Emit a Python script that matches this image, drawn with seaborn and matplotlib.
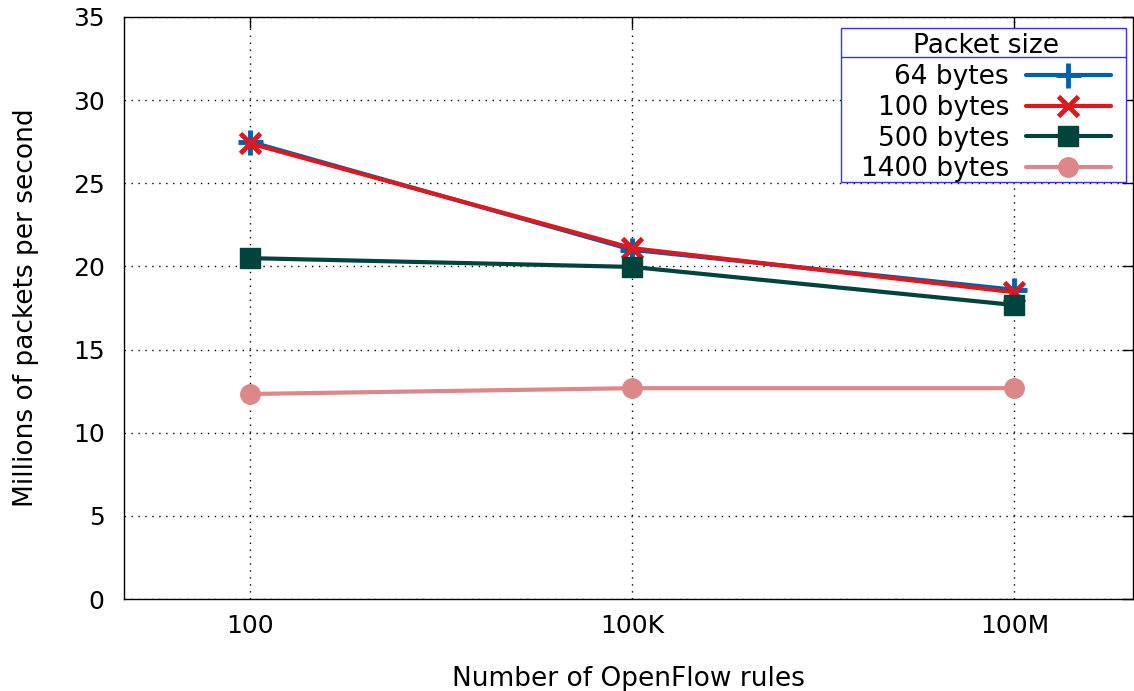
import matplotlib
matplotlib.use("Agg")
import matplotlib.pyplot as plt
from matplotlib.lines import Line2D
from matplotlib.patches import Rectangle
import seaborn as sns
import pandas as pd

rules = ["100", "100K", "100M"]
sizes = ["64 bytes", "100 bytes", "500 bytes", "1400 bytes"]
mpps_64 = [27.5, 21.0, 18.6]
mpps_100 = [27.4, 21.1, 18.45]
mpps_500 = [20.5, 19.97, 17.68]
mpps_1400 = [12.33, 12.68, 12.68]

colors = ["#0060ad", "#dd181f", "#00443d", "#dd8888"]
markers = ["+", "x", "s", "o"]
msizes = [18, 15, 14, 14]
mews = [3.5, 3.5, 1, 1]
frame_color = "#3333ee"

sns.set_theme(style="white")
plt.rcParams["font.family"] = ["DejaVu Sans"]
plt.rcParams.update({"text.color": "black", "axes.labelcolor": "black",
                     "xtick.color": "black", "ytick.color": "black"})

fig = plt.figure(figsize=(11.34, 6.91), dpi=100)
ax = fig.add_axes([0.1093, 0.1331, 0.8897, 0.8423])

series = [mpps_64, mpps_100, mpps_500, mpps_1400]
handles = []
for name, vals, c, m, ms, mew in zip(sizes, series, colors, markers, msizes, mews):
    df = pd.DataFrame({"pos": range(len(rules)), "mpps": vals})
    sns.lineplot(data=df, x="pos", y="mpps", ax=ax, color=c, linewidth=3,
                 marker=m, markersize=ms, markeredgewidth=mew,
                 markeredgecolor=c, markerfacecolor=c, zorder=3)
    handles.append(Line2D([], [], color=c, linewidth=3, marker=m, markersize=ms,
                          markeredgewidth=mew, markeredgecolor=c, markerfacecolor=c))

ax.set_xlim(-0.33, 2.31)
ax.set_ylim(0, 35)
ax.set_xticks(range(len(rules)))
ax.set_xticklabels(rules)
ax.set_yticks(range(0, 36, 5))
ax.tick_params(axis="both", direction="in", length=8, width=1, labelsize=18,
               top=True, right=True, color="black", labelcolor="black")
ax.tick_params(axis="x", pad=11)
ax.tick_params(axis="y", pad=14)
ax.grid(True, linestyle=(0, (1, 4)), color="black", linewidth=1)
for s in ax.spines.values():
    s.set_color("black")
    s.set_linewidth(1)
ax.set_xlabel("Number of OpenFlow rules", fontsize=19, labelpad=20)
ax.set_ylabel("Millions of packets per second", fontsize=19, labelpad=24)

# legend without its own frame; a box with a title separator is drawn around it
leg = ax.legend(handles, sizes, title="Packet size", loc="upper right",
                bbox_to_anchor=(0.978, 0.972), markerfirst=False, fontsize=19,
                title_fontsize=19, frameon=False, handlelength=3.2,
                borderpad=0.0, labelspacing=0.18, handletextpad=0.65,
                borderaxespad=0, alignment="center")

fig.canvas.draw()
bb = leg._legend_box.get_window_extent()
tb = leg.get_title().get_window_extent()
inv = fig.transFigure.inverted()
pad_l, pad_r, pad_t, pad_b = 20, 15, 5, 0
(fx0, fy0) = inv.transform((bb.x0 - pad_l, bb.y0 - pad_b))
(fx1, fy1) = inv.transform((bb.x1 + pad_r, bb.y1 + pad_t))
fig.add_artist(Rectangle((fx0, fy0), fx1 - fx0, fy1 - fy0, transform=fig.transFigure,
                         facecolor="white", edgecolor=frame_color, linewidth=1, zorder=4))
_, sy = inv.transform((0, tb.y0 + 2))
fig.add_artist(Line2D([fx0, fx1], [sy, sy], transform=fig.transFigure,
                      color=frame_color, linewidth=1, zorder=10))
leg.remove()
fig.add_artist(leg)
leg.set_zorder(6)

fig.savefig("out.png", dpi=100)
